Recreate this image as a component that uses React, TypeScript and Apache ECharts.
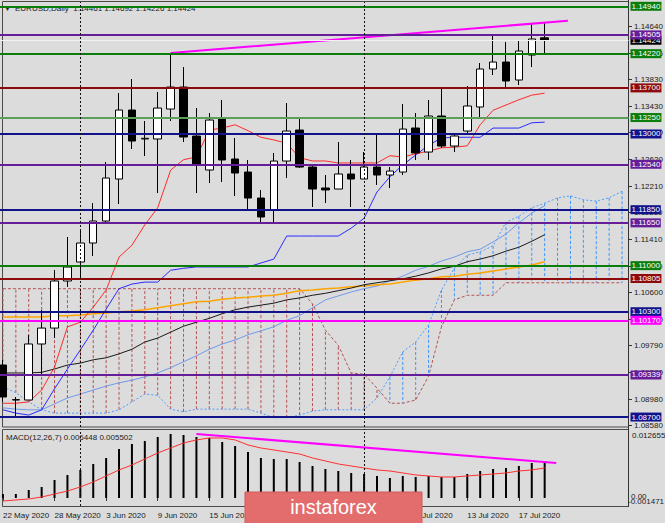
import React, { useEffect, useRef } from 'react';
import * as echarts from 'echarts';

const FONT = '"Liberation Sans", Arial, sans-serif';

// ---------- data ----------
const dates = [
  '22 May 2020', '25 May 2020', '26 May 2020', '27 May 2020', '28 May 2020', '29 May 2020',
  '1 Jun 2020', '2 Jun 2020', '3 Jun 2020', '4 Jun 2020', '5 Jun 2020', '8 Jun 2020',
  '9 Jun 2020', '10 Jun 2020', '11 Jun 2020', '12 Jun 2020', '15 Jun 2020', '16 Jun 2020',
  '17 Jun 2020', '18 Jun 2020', '19 Jun 2020', '22 Jun 2020', '23 Jun 2020', '24 Jun 2020',
  '25 Jun 2020', '26 Jun 2020', '29 Jun 2020', '30 Jun 2020', '1 Jul 2020', '2 Jul 2020',
  '3 Jul 2020', '6 Jul 2020', '7 Jul 2020', '8 Jul 2020', '9 Jul 2020', '10 Jul 2020',
  '13 Jul 2020', '14 Jul 2020', '15 Jul 2020', '16 Jul 2020', '17 Jul 2020', '20 Jul 2020',
  '21 Jul 2020', '', '', '', '', '', '',
];

const opens = [1.09491, 1.08959, 1.08959, 1.0981, 1.10052, 1.10767, 1.11055, 1.11344, 1.11678, 1.12316, 1.13364, 1.12924, 1.12924, 1.13379, 1.13713, 1.12969, 1.12453, 1.13227, 1.1262, 1.12422, 1.12027, 1.11845, 1.12589, 1.1306, 1.12498, 1.1218, 1.12164, 1.12392, 1.12316, 1.12498, 1.12377, 1.12422, 1.13091, 1.12726, 1.13273, 1.12817, 1.13045, 1.1341, 1.13987, 1.14093, 1.1382, 1.14199, 1.14461];
const closes = [1.09005, 1.08965, 1.0981, 1.10052, 1.10767, 1.10979, 1.11344, 1.11678, 1.12331, 1.13364, 1.12893, 1.12935, 1.13394, 1.13713, 1.12954, 1.12544, 1.13212, 1.12605, 1.12407, 1.12027, 1.11739, 1.12589, 1.13045, 1.12498, 1.12164, 1.1215, 1.12392, 1.12316, 1.12498, 1.12377, 1.12437, 1.13075, 1.12711, 1.13273, 1.12817, 1.12969, 1.13425, 1.13987, 1.14093, 1.13805, 1.1426, 1.14443, 1.14424];
const lows = [1.08929, 1.08701, 1.08959, 1.09339, 1.09901, 1.10676, 1.10827, 1.11146, 1.11663, 1.11936, 1.12772, 1.12665, 1.12103, 1.13197, 1.12878, 1.12103, 1.12255, 1.1227, 1.12058, 1.11845, 1.11663, 1.11663, 1.12331, 1.12483, 1.11891, 1.11951, 1.12164, 1.11891, 1.12316, 1.12225, 1.12179, 1.12377, 1.12605, 1.12605, 1.12787, 1.12726, 1.12999, 1.13242, 1.13896, 1.13698, 1.13744, 1.14017, 1.14226];
const highs = [1.09567, 1.09005, 1.09946, 1.10326, 1.10934, 1.11435, 1.11557, 1.11951, 1.12574, 1.13622, 1.13835, 1.13197, 1.13637, 1.1423, 1.14017, 1.13394, 1.13318, 1.13516, 1.12939, 1.12605, 1.12149, 1.12711, 1.1347, 1.13258, 1.12513, 1.12377, 1.12878, 1.12605, 1.12726, 1.13015, 1.12498, 1.13455, 1.13318, 1.13516, 1.13698, 1.12984, 1.13729, 1.14078, 1.14488, 1.14397, 1.14412, 1.1467, 1.14692];

const tenkan = [1.0891, 1.0891, 1.0893, 1.0911, 1.0946, 1.1007, 1.1014, 1.1037, 1.1063, 1.1113, 1.1131, 1.1162, 1.1188, 1.1245, 1.1261, 1.1265, 1.1306, 1.1309, 1.1314, 1.1305, 1.1295, 1.1291, 1.1286, 1.1264, 1.1259, 1.1259, 1.1256, 1.1256, 1.1256, 1.1256, 1.1267, 1.1265, 1.127, 1.1274, 1.1279, 1.128, 1.1282, 1.1314, 1.1336, 1.1344, 1.1352, 1.1359, 1.1362];
const kijun = [1.0881, 1.0876, 1.0873, 1.0881, 1.0913, 1.0943, 1.0972, 1.1002, 1.1034, 1.1065, 1.1072, 1.1075, 1.1075, 1.1093, 1.1096, 1.1098, 1.1098, 1.1098, 1.1098, 1.1098, 1.1104, 1.111, 1.1145, 1.1145, 1.1145, 1.1145, 1.1145, 1.1157, 1.1172, 1.1212, 1.1235, 1.1253, 1.1268, 1.1283, 1.1294, 1.1295, 1.1295, 1.1295, 1.1309, 1.1309, 1.1309, 1.1317, 1.1318];
const smaBlack = [1.0937, 1.0937, 1.0937, 1.0938, 1.0943, 1.0949, 1.0952, 1.0957, 1.096, 1.0966, 1.0973, 1.0984, 1.099, 1.0999, 1.1008, 1.1014, 1.102, 1.1027, 1.1033, 1.1037, 1.104, 1.1043, 1.1048, 1.1051, 1.1055, 1.1058, 1.1062, 1.1066, 1.1071, 1.1074, 1.1077, 1.108, 1.1084, 1.1089, 1.1095, 1.1099, 1.1106, 1.111, 1.1115, 1.1122, 1.1128, 1.1137, 1.1147];
const smaOrange = [1.1022, 1.1022, 1.1022, 1.1022, 1.1024, 1.1024, 1.1025, 1.1027, 1.1028, 1.103, 1.1031, 1.1033, 1.1036, 1.1039, 1.1042, 1.1045, 1.1046, 1.1049, 1.1051, 1.1052, 1.1054, 1.1055, 1.1058, 1.1062, 1.1063, 1.1065, 1.1066, 1.1068, 1.1069, 1.1071, 1.1072, 1.1075, 1.1078, 1.108, 1.1083, 1.1084, 1.1087, 1.1089, 1.1092, 1.1095, 1.1098, 1.1101, 1.1106];
const smaLightBlue = [1.0884, 1.0882, 1.0881, 1.0881, 1.089, 1.0899, 1.0905, 1.0911, 1.0917, 1.0922, 1.0926, 1.0931, 1.0937, 1.0945, 1.0954, 1.0963, 1.0973, 1.0981, 1.0987, 1.0995, 1.1001, 1.1007, 1.1017, 1.1024, 1.1036, 1.1048, 1.1054, 1.106, 1.1065, 1.1069, 1.1077, 1.1084, 1.1093, 1.1099, 1.1107, 1.1113, 1.1121, 1.1125, 1.1136, 1.1148, 1.1165, 1.118, 1.1191];
const senkouA = [1.0916, 1.0907, 1.0893, 1.0881, 1.0876, 1.0876, 1.0876, 1.0876, 1.0876, 1.0881, 1.0893, 1.0905, 1.0903, 1.0882, 1.0878, 1.0882, 1.0882, 1.0882, 1.0882, 1.0882, 1.0876, 1.0869, 1.0869, 1.0873, 1.0879, 1.0881, 1.0881, 1.0881, 1.0881, 1.0899, 1.0931, 1.0969, 1.0984, 1.101, 1.1063, 1.1096, 1.1116, 1.1121, 1.113, 1.1166, 1.1175, 1.1188, 1.1195, 1.1203, 1.1206, 1.12, 1.1198, 1.1203, 1.1213];
const senkouB = [1.1065, 1.1065, 1.1065, 1.1065, 1.1065, 1.1065, 1.1065, 1.1065, 1.1065, 1.1065, 1.1065, 1.1065, 1.1065, 1.1065, 1.1065, 1.1065, 1.1065, 1.1065, 1.1065, 1.1065, 1.1065, 1.1065, 1.1065, 1.1065, 1.1042, 1.1002, 1.0979, 1.0937, 1.0935, 1.0914, 1.0891, 1.0891, 1.0896, 1.0932, 1.1007, 1.1048, 1.1055, 1.1055, 1.1055, 1.1074, 1.1074, 1.1074, 1.1074, 1.1074, 1.1074, 1.1074, 1.1074, 1.1074, 1.1074];

const priceTrend = [[13, 1.1423], [43.8, 1.1472]];
const separatorIdx = [6, 28];

const levelValues = [1.14424, 1.1494, 1.14505, 1.1422, 1.137, 1.1325, 1.13, 1.1254, 1.1185, 1.1165, 1.11, 1.10805, 1.103, 1.1017, 1.09339, 1.087];
const priceTicks = [1.1464, 1.14235, 1.1383, 1.1343, 1.1303, 1.1262, 1.1221, 1.1181, 1.1141, 1.11, 1.106, 1.1019, 1.0979, 1.0938, 1.0898, 1.0858];
const priceMin = 1.08549;
const priceMax = 1.15005;

const macdMain = [0.00073, 0.00073, 0.00147, 0.00202, 0.0033, 0.00422, 0.00514, 0.00624, 0.00734, 0.00899, 0.00991, 0.01046, 0.01119, 0.01174, 0.01156, 0.01119, 0.01101, 0.01027, 0.00954, 0.00844, 0.00734, 0.00715, 0.00715, 0.0066, 0.00587, 0.00532, 0.00495, 0.00459, 0.0044, 0.00404, 0.00367, 0.00404, 0.00385, 0.00404, 0.00385, 0.00385, 0.0044, 0.00495, 0.00532, 0.0055, 0.00587, 0.00642, 0.006448];
const macdSignal = [-0.00055, -0.00037, -0.00018, 0.00018, 0.00073, 0.00128, 0.00202, 0.00294, 0.00404, 0.00514, 0.00605, 0.00715, 0.00826, 0.00917, 0.01009, 0.01064, 0.01101, 0.01101, 0.01064, 0.00972, 0.00917, 0.00881, 0.00844, 0.00807, 0.00734, 0.00679, 0.00624, 0.00587, 0.0055, 0.00514, 0.00495, 0.00459, 0.00422, 0.00404, 0.00385, 0.00385, 0.00404, 0.00422, 0.0044, 0.00459, 0.00495, 0.00514, 0.005502];
const macdTrend = [[15, 0.01174], [42.9, 0.00642]];
const macdMin = -0.001471;
const macdMax = 0.012655;

// ---------- styles ----------
const GREEN = '#0b7d0b';
const PURPLE = '#651e98';
const NAVY = '#12128c';
const MAROON = '#8e0a0a';
const MAGENTA = '#ff00ff';
const levelColors = ['#000000', GREEN, PURPLE, GREEN, MAROON, GREEN, NAVY, PURPLE, NAVY, PURPLE, GREEN, MAROON, NAVY, MAGENTA, PURPLE, NAVY];
const levelLineColors = ['#f2f2f2', GREEN, PURPLE, GREEN, MAROON, '#5a9e5a', NAVY, PURPLE, NAVY, PURPLE, GREEN, MAROON, NAVY, MAGENTA, PURPLE, NAVY];

const idxSeries = (arr: number[]) => arr.map((v, i) => [i, v]);

export default function App() {
  const ref = useRef<HTMLDivElement>(null);
  useEffect(() => {
    const chart = echarts.init(ref.current!, null, { renderer: 'svg' });
    const lastIdx = opens.length - 1;
    const labelInterval = (index: number) => index % 4 === 0 && index <= 40;

    const lineS = (data: any[], color: string, width: number, type: any = 'solid', z = 2) => ({
      type: 'line',
      xAxisIndex: 1,
      yAxisIndex: 0,
      data,
      symbol: 'none',
      silent: true,
      z,
      lineStyle: { color, width, type },
    });

    const option: any = {
      animation: false,
      backgroundColor: '#dcdcdc',
      grid: [
        { left: -3.5, right: 36.5, top: 2, height: 425, outerBoundsMode: 'none', containLabel: false },
        { left: -3.5, right: 36.5, top: 429, height: 77, outerBoundsMode: 'none', containLabel: false },
      ],
      xAxis: [
        { type: 'category', gridIndex: 0, data: dates, boundaryGap: true, show: false },
        { type: 'value', gridIndex: 0, min: -0.5, max: 48.5, show: false },
        {
          type: 'category', gridIndex: 1, data: dates, boundaryGap: true,
          axisLine: { show: false },
          axisTick: { show: true, interval: labelInterval, alignWithLabel: true, length: 3, lineStyle: { color: '#333' } },
          axisLabel: { interval: labelInterval, align: 'left', fontSize: 8, fontFamily: FONT, color: '#1a1a1a', margin: 5 },
          splitLine: { show: false },
        },
        { type: 'value', gridIndex: 1, min: -0.5, max: 48.5, show: false },
      ],
      yAxis: [
        { type: 'value', gridIndex: 0, min: priceMin, max: priceMax, show: false, splitLine: { show: false } },
        { type: 'value', gridIndex: 1, min: macdMin, max: macdMax, show: false, splitLine: { show: false } },
      ],
      series: [
        {
          type: 'custom',
          xAxisIndex: 1,
          yAxisIndex: 0,
          silent: true,
          z: 1,
          data: senkouA.map((a, i) => [i, a, senkouB[i]]),
          encode: { x: 0, y: [1, 2] },
          renderItem: (params: any, api: any) => {
            const i = api.value(0);
            const a = api.value(1);
            const b = api.value(2);
            const p1 = api.coord([i, a]);
            const p2 = api.coord([i, b]);
            return {
              type: 'line',
              shape: { x1: p1[0], y1: p1[1], x2: p2[0], y2: p2[1] },
              style: { stroke: a > b ? '#3a94ff' : '#b65252', lineWidth: 1, lineDash: [3, 2] },
            };
          },
        },
        lineS(idxSeries(senkouA), '#4a9dff', 1, [2, 2]),
        lineS(idxSeries(senkouB), '#b65252', 1, [3, 2]),
        lineS(idxSeries(smaLightBlue), '#6f98ec', 1),
        lineS(idxSeries(smaOrange), '#ffa500', 1.5),
        lineS(idxSeries(smaBlack), '#1a1a1a', 1),
        lineS(idxSeries(kijun), '#2a2aff', 1),
        lineS(idxSeries(tenkan), '#ff2a2a', 1),
        {
          type: 'candlestick',
          xAxisIndex: 0,
          yAxisIndex: 0,
          silent: true,
          z: 3,
          barWidth: 8,
          data: opens.map((o, i) => [o, closes[i], lows[i], highs[i]]),
          itemStyle: { color: '#ffffff', color0: '#000000', borderColor: '#000000', borderColor0: '#000000', borderWidth: 1 },
          markLine: {
            silent: true,
            precision: 5,
            symbol: ['none', 'none'],
            animation: false,
            label: {
              show: true,
              position: 'end',
              distance: 2,
              color: '#ffffff',
              fontSize: 8,
              fontFamily: FONT,
              padding: [1, 1, 0, 1],
              formatter: (p: any) => Number(p.value).toFixed(5),
            },
            data: levelValues.map((v, i) => ({
              yAxis: v,
              lineStyle: { color: levelLineColors[i], width: i === 0 ? 1 : 2, type: 'solid' },
              label: { backgroundColor: levelColors[i] },
            })),
          },
        },
        {
          ...lineS(priceTrend, MAGENTA, 2, 'solid', 4),
          markLine: {
            silent: true,
            precision: 5,
            symbol: ['none', 'none'],
            animation: false,
            label: { show: false },
            lineStyle: { color: '#111', width: 1, type: [2, 2] },
            data: separatorIdx.map((x) => ({ xAxis: x })),
          },
        },
        {
          type: 'bar',
          xAxisIndex: 2,
          yAxisIndex: 1,
          silent: true,
          barWidth: 2,
          data: macdMain,
          itemStyle: { color: '#000000' },
        },
        {
          type: 'line',
          xAxisIndex: 2,
          yAxisIndex: 1,
          silent: true,
          symbol: 'none',
          data: macdSignal,
          lineStyle: { color: '#ff3030', width: 1 },
          z: 3,
        },
        {
          type: 'line',
          xAxisIndex: 3,
          yAxisIndex: 1,
          silent: true,
          symbol: 'none',
          data: macdTrend,
          lineStyle: { color: MAGENTA, width: 2 },
          z: 4,
          markLine: {
            silent: true,
            precision: 5,
            symbol: ['none', 'none'],
            animation: false,
            label: { show: false },
            lineStyle: { color: '#111', width: 1, type: [2, 2] },
            data: separatorIdx.map((x) => ({ xAxis: x })),
          },
        },
      ],
    };
    chart.setOption(option);

    const yPix = (v: number, idx: number) => chart.convertToPixel({ yAxisIndex: idx } as any, v) as unknown as number;
    const txt = (x: number, y: number, text: string, size: number, fill: string, align = 'left', vAlign = 'middle', z = 0) => ({
      type: 'text',
      x,
      y,
      z,
      silent: true,
      style: {
        text,
        fill,
        fontSize: size,
        fontFamily: FONT,
        align,
        textAlign: align,
        verticalAlign: vAlign,
        textVerticalAlign: vAlign,
      },
    });

    const g: any[] = [];
    g.push({ type: 'rect', silent: true, shape: { x: 2.5, y: 1.5, width: 626, height: 425.5 }, style: { fill: 'none', stroke: '#4a4a4a', lineWidth: 1 } });
    g.push({ type: 'rect', silent: true, shape: { x: 2.5, y: 429.5, width: 626, height: 77 }, style: { fill: 'none', stroke: '#4a4a4a', lineWidth: 1 } });
    g.push({ type: 'line', silent: true, shape: { x1: 628.5, y1: 0, x2: 628.5, y2: 507 }, style: { stroke: '#333', lineWidth: 1 } });

    priceTicks.forEach((v) => {
      const y = Math.round(yPix(v, 0)) + 0.5;
      g.push({ type: 'line', silent: true, shape: { x1: 628.5, y1: y, x2: 632, y2: y }, style: { stroke: '#333', lineWidth: 1 } });
      g.push(txt(634, y, v.toFixed(5), 8, '#1a1a1a'));
    });

    const yTop = yPix(macdMax, 1);
    const yZero = yPix(0, 1);
    const yBot = yPix(macdMin, 1);
    g.push(txt(632, yTop + 2, macdMax.toFixed(6), 8, '#1a1a1a', 'left', 'top'));
    g.push(txt(631, yZero - 1, '0.00', 8, '#1a1a1a'));
    g.push(txt(628, yBot - 5, macdMin.toFixed(6), 8, '#1a1a1a'));

    g.push(txt(4, 8, '\u25BC', 7, '#222'));
    g.push(txt(15, 8, `EURUSD,Daily  ${opens[lastIdx].toFixed(5)} ${highs[lastIdx].toFixed(5)} ${lows[lastIdx].toFixed(5)} ${closes[lastIdx].toFixed(5)}`, 8, '#222'));
    g.push(txt(6, 437, `MACD(12,26,7) ${macdMain[lastIdx].toFixed(6)} ${macdSignal[lastIdx].toFixed(6)}`, 8, '#222'));

    g.push({ type: 'rect', silent: true, z: 100, shape: { x: 245, y: 492, width: 177, height: 32 }, style: { fill: '#e36d6d', stroke: '#cf5a5a', lineWidth: 1 } });
    g.push(txt(333.5, 507, 'instaforex', 20, '#ffffff', 'center', 'middle', 101));

    chart.setOption({ graphic: g });
    return () => chart.dispose();
  }, []);
  return <div ref={ref} style={{ position: 'absolute', left: 0, top: 0, width: 665, height: 523 }} />;
}
